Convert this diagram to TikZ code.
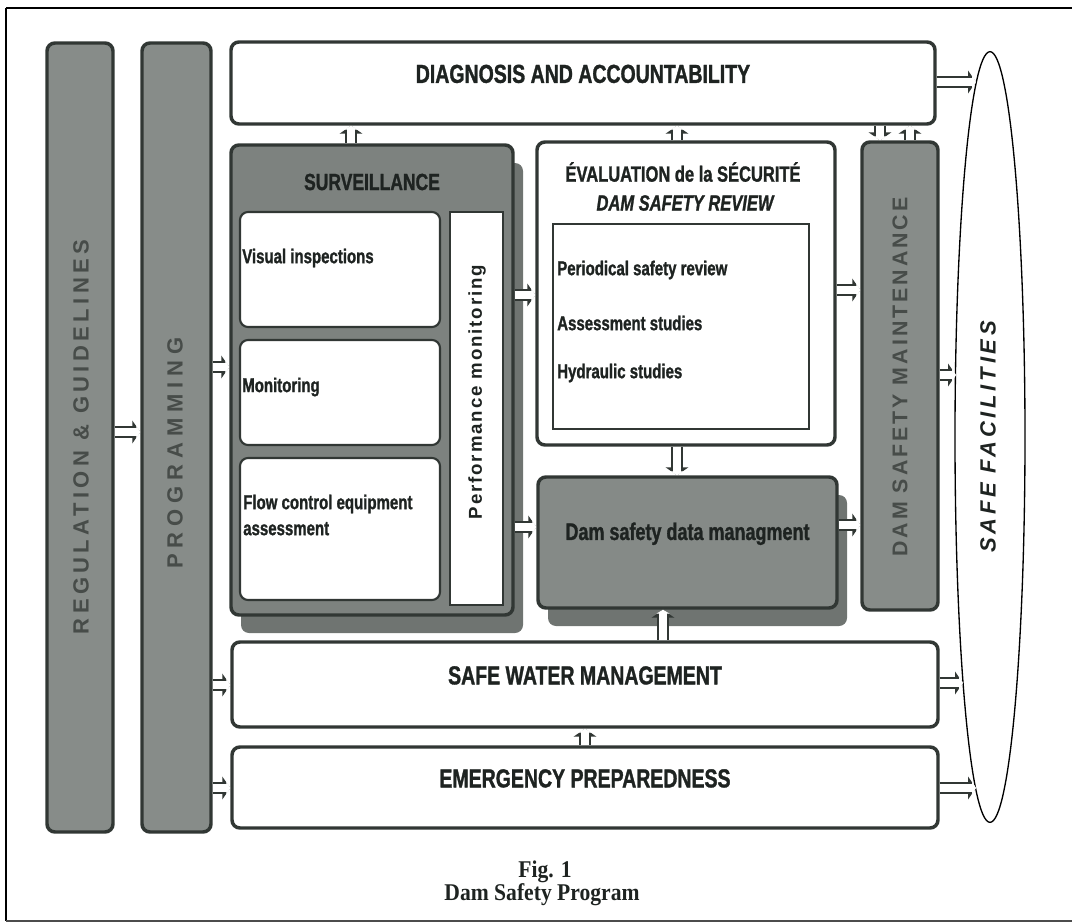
\documentclass[tikz,border=0pt]{standalone}
\usepackage{fontspec}
\setmainfont{Liberation Sans}
\newfontfamily\condf[FakeStretch=0.75,FakeBold=1.2]{Liberation Sans}
\newfontfamily\spacef{Liberation Sans}
\newfontfamily\captf[FakeStretch=0.9]{Liberation Serif}
\usetikzlibrary{fit,shapes.geometric,shadows,arrows.meta}
\definecolor{dk}{HTML}{313734}
\definecolor{barfill}{HTML}{878C89}
\definecolor{survfill}{HTML}{7D827F}
\definecolor{dmfill}{HTML}{858A87}
\definecolor{shadowc}{HTML}{6F7471}
\definecolor{bartext}{HTML}{474C49}
\definecolor{txt}{HTML}{1E2321}
\tikzset{
  box/.style={draw=dk, line width=2.6pt, rounded corners=6pt, inner sep=0pt},
  graybar/.style={box, fill=barfill},
  whitebox/.style={box, fill=white},
  cellbox/.style={draw=dk, line width=1.6pt, rounded corners=6pt, fill=white, inner sep=0pt},
  thinbox/.style={draw=dk, line width=0.9pt, fill=white, inner sep=0pt},
  shadowed/.style={drop shadow={shadow xshift=7.5pt, shadow yshift=-13.5pt, fill=shadowc, opacity=1}},
  bigtxt/.style={font=\condf\bfseries\fontsize{19.5}{22}\selectfont, text=txt},
  survtxt/.style={font=\condf\bfseries\fontsize{17.5}{20}\selectfont, text=txt, inner sep=0pt},
  evtxt/.style={font=\condf\bfseries\fontsize{16.5}{19}\selectfont, text=txt, inner sep=0pt},
  evitxt/.style={font=\condf\bfseries\itshape\fontsize{16.5}{19}\selectfont, text=txt, inner sep=0pt},
  itemtxt/.style={font=\condf\bfseries\fontsize{15}{19.5}\selectfont, text=txt, inner sep=0pt, anchor=west, align=left},
  dmtxt/.style={font=\condf\bfseries\fontsize{18}{21}\selectfont, text=txt},
  bartxt/.style={font=\spacef\bfseries\fontsize{16.5}{18}\selectfont\addfontfeature{LetterSpace=20}, text=bartext, inner sep=0pt, rotate=90},
  perftxt/.style={font=\spacef\bfseries\fontsize{14}{16}\selectfont\addfontfeature{LetterSpace=10}, text=txt, inner sep=0pt, rotate=90},
  safetxt/.style={font=\spacef\bfseries\itshape\fontsize{16.5}{18}\selectfont\addfontfeature{LetterSpace=17}, text=txt, inner sep=0pt, rotate=90},
  capt/.style={font=\captf\bfseries\fontsize{18}{21}\selectfont, text=txt, inner sep=0pt},
  hollow/.style={draw=dk, line width=8.5pt, -{Triangle[length=6pt,width=17pt]},
    postaction={draw=white, line width=5.6pt, -{Triangle[length=3pt,width=10pt]}}},
}
\begin{document}
\begin{tikzpicture}[x=0.75pt,y=-0.75pt]
\useasboundingbox (0,0) rectangle (1072,924);
% frame
\draw[line width=1pt, black] (6,8) -- (1072,8);
\draw[line width=1pt, black] (6,8) -- (6,921);
\draw[line width=1.8pt, black!70] (6,921) -- (1072,921);

% vertical bars
\node[graybar, fit={(47,43)(113,832)}] (reg) {};
\node[graybar, fit={(142,43)(211,832)}] (prog) {};
\node[bartxt] (regT) at (81,437) {REGULATION \& GUIDELINES};
\node[bartxt, font=\spacef\bfseries\fontsize{16.5}{18}\selectfont\addfontfeature{LetterSpace=27}] (progT) at (175,453) {PROGRAMMING};

% top box
\node[whitebox, fit={(231,42)(935,124)}, bigtxt] (diag) {DIAGNOSIS AND ACCOUNTABILITY};

% surveillance
\node[box, fill=survfill, shadowed, fit={(231,145)(513,615)}] (surv) {};
\node[survtxt] (survT) at (372,182) {SURVEILLANCE};
\node[cellbox, fit={(240,212)(440,327)}] (vis) {};
\node[cellbox, fit={(240,340)(440,445)}] (mon) {};
\node[cellbox, fit={(240,458)(440,600)}] (flow) {};
\node[itemtxt] (visT) at (242,258) {Visual inspections};
\node[itemtxt] (monT) at (242,387) {Monitoring};
\node[itemtxt] (flowT) at (243,515) {Flow control equipment\\assessment};
\node[thinbox, fit={(450,212)(503,605)}] (perf) {};
\node[perftxt] (perfT) at (477,392) {Performance monitoring};

% evaluation
\node[whitebox, fit={(537,142)(835,445)}] (eval) {};
\node[evtxt] (evT1) at (683,172) {ÉVALUATION de la SÉCURITÉ};
\node[evitxt] (evT2) at (685,203) {DAM SAFETY REVIEW};
\node[thinbox, fit={(553,224)(809,429)}] (evin) {};
\node[itemtxt] (it1) at (557,270) {Periodical safety review};
\node[itemtxt] (it2) at (557,323) {Assessment studies};
\node[itemtxt] (it3) at (557,373) {Hydraulic studies};

% data management
\node[box, fill=dmfill, shadowed, fit={(538,477)(837,608)}, dmtxt] (dm) {Dam safety data managment};

% maintenance
\node[graybar, fit={(862,142)(938,610)}] (maint) {};
\node[bartxt, font=\spacef\bfseries\fontsize{16}{18}\selectfont\addfontfeature{LetterSpace=14}] (maintT) at (900,377) {DAM SAFETY MAINTENANCE};

% bottom boxes
\node[whitebox, fit={(232,642)(938,727)}, bigtxt] (swm) {SAFE WATER MANAGEMENT};
\node[whitebox, fit={(232,747)(938,828)}, bigtxt] (ep) {EMERGENCY PREPAREDNESS};

% ellipse
\node[draw=black, line width=1pt, ellipse, minimum width=52.5pt, minimum height=578pt, inner sep=0pt] (safe) at (990,437) {};
\node[safetxt] (safeT) at (988,437) {SAFE FACILITIES};
\coordinate (sf1) at (976,82);
\coordinate (sf2) at (956,375);
\coordinate (sf3) at (963,683);
\coordinate (sf4) at (976,788);

% arrows
\draw[hollow] (reg.east |- 0,432) -- (prog.west |- 0,432);
\draw[hollow] (prog.east |- 0,367) -- (surv.west |- 0,367);
\draw[hollow] (prog.east |- 0,685) -- (swm.west |- 0,685);
\draw[hollow] (prog.east |- 0,788) -- (ep.west |- 0,788);
\draw[hollow] (surv.north -| 351,0) -- (diag.south -| 351,0);
\draw[hollow] (eval.north -| 677,0) -- (diag.south -| 677,0);
\draw[hollow] (diag.south -| 880,0) -- (maint.north -| 880,0);
\draw[hollow] (maint.north -| 910,0) -- (diag.south -| 910,0);
\draw[hollow] (surv.east |- 0,295) -- (eval.west |- 0,295);
\draw[hollow] (surv.east |- 0,527) -- (dm.west |- 0,527);
\draw[hollow] (eval.east |- 0,290) -- (maint.west |- 0,290);
\draw[hollow] (eval.south -| 677,0) -- (dm.north -| 677,0);
\draw[hollow] (dm.east |- 0,525) -- (maint.west |- 0,525);
\draw[hollow] (swm.north -| 663,0) -- (dm.south -| 663,0);
\draw[hollow] (ep.north -| 585,0) -- (swm.south -| 585,0);
\draw[hollow] (diag.east |- sf1) -- (sf1);
\draw[hollow] (maint.east |- sf2) -- (sf2);
\draw[hollow] (swm.east |- sf3) -- (sf3);
\draw[hollow] (ep.east |- sf4) -- (sf4);

% caption
\node[capt] (cap1) at (545,872) {Fig. 1};
\node[capt] (cap2) at (542,895) {Dam Safety Program};
\end{tikzpicture}
\end{document}
